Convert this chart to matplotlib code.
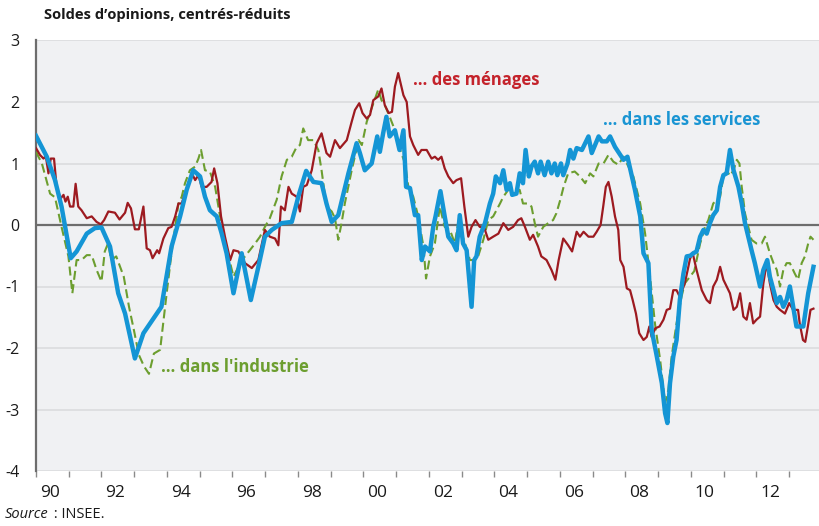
import matplotlib
matplotlib.use("Agg")
import matplotlib.pyplot as plt
from matplotlib.ticker import FixedLocator, NullFormatter, FixedFormatter

plt.rcParams['font.family'] = ['Open Sans', 'DejaVu Sans']
plt.rcParams['lines.scale_dashes'] = False

# ---- data (decimal years, values) ----
menages_t = [1990.00, 1990.12, 1990.23, 1990.30, 1990.38, 1990.45, 1990.55, 1990.63, 1990.75, 1990.84,
             1990.90, 1990.97, 1991.04, 1991.14, 1991.21, 1991.29, 1991.39, 1991.55, 1991.70, 1991.85,
             1991.98, 1992.08, 1992.21, 1992.41, 1992.55, 1992.72, 1992.80, 1992.90, 1993.02, 1993.14,
             1993.28, 1993.38, 1993.48, 1993.56, 1993.70, 1993.76, 1993.89, 1994.04, 1994.14, 1994.25,
             1994.35, 1994.45, 1994.60, 1994.76, 1994.86, 1994.96, 1995.06, 1995.21, 1995.36, 1995.44,
             1995.54, 1995.65, 1995.77, 1995.93, 1996.03, 1996.18, 1996.38, 1996.59, 1996.79, 1996.99,
             1997.14, 1997.30, 1997.40, 1997.48, 1997.60, 1997.71, 1997.81, 1997.96, 1998.06, 1998.16,
             1998.27, 1998.42, 1998.57, 1998.72, 1998.87, 1998.98, 1999.13, 1999.28, 1999.49, 1999.64,
             1999.74, 1999.87, 1999.97, 2000.10, 2000.20, 2000.30, 2000.45, 2000.55, 2000.65, 2000.77,
             2000.87, 2000.96, 2001.06, 2001.22, 2001.32, 2001.42, 2001.52, 2001.67, 2001.77, 2001.93,
             2002.08, 2002.18, 2002.28, 2002.38, 2002.48, 2002.59, 2002.74, 2002.84, 2002.98, 2003.08,
             2003.20, 2003.30, 2003.42, 2003.55, 2003.69, 2003.81, 2003.96, 2004.12, 2004.27, 2004.42,
             2004.57, 2004.72, 2004.82, 2004.93, 2005.08, 2005.18, 2005.33, 2005.43, 2005.59, 2005.74,
             2005.86, 2005.96, 2006.10, 2006.25, 2006.37, 2006.51, 2006.61, 2006.72, 2006.87, 2007.02,
             2007.12, 2007.24, 2007.32, 2007.40, 2007.48, 2007.58, 2007.68, 2007.78, 2007.84, 2007.94,
             2008.04, 2008.14, 2008.22, 2008.32, 2008.42, 2008.55, 2008.65, 2008.73, 2008.80, 2008.91,
             2009.04, 2009.16, 2009.26, 2009.36, 2009.46, 2009.56, 2009.66, 2009.81, 2009.90, 2009.97,
             2010.05, 2010.17, 2010.33, 2010.48, 2010.58, 2010.68, 2010.79, 2010.89, 2010.99, 2011.09,
             2011.19, 2011.30, 2011.40, 2011.50, 2011.60, 2011.70, 2011.80, 2011.90, 2012.00, 2012.11,
             2012.21, 2012.31, 2012.41, 2012.52, 2012.62, 2012.72, 2012.87, 2013.00, 2013.12, 2013.27,
             2013.32, 2013.42, 2013.49, 2013.57, 2013.65, 2013.74]
menages_v = [1.25, 1.14, 1.08, 1.12, 0.84, 1.08, 1.08, 0.62, 0.43, 0.49,
             0.38, 0.46, 0.30, 0.30, 0.67, 0.30, 0.24, 0.11, 0.14, 0.05,
             0.01, 0.08, 0.22, 0.20, 0.09, 0.20, 0.36, 0.27, -0.07, -0.07,
             0.30, -0.38, -0.41, -0.54, -0.41, -0.46, -0.22, -0.05, -0.03, 0.14,
             0.35, 0.35, 0.60, 0.84, 0.73, 0.81, 0.62, 0.62, 0.70, 0.92,
             0.68, 0.14, -0.19, -0.57, -0.41, -0.43, -0.62, -0.70, -0.57, -0.08,
             -0.19, -0.22, -0.33, 0.30, 0.24, 0.62, 0.51, 0.46, 0.22, 0.62,
             0.65, 0.89, 1.33, 1.49, 1.17, 1.11, 1.38, 1.25, 1.38, 1.68,
             1.87, 1.98, 1.82, 1.73, 1.79, 2.03, 2.09, 2.22, 1.95, 1.82,
             1.84, 2.25, 2.47, 2.11, 2.00, 1.44, 1.30, 1.14, 1.22, 1.22,
             1.08, 1.11, 1.06, 1.11, 0.92, 0.79, 0.68, 0.73, 0.76, 0.30,
             -0.19, -0.03, 0.08, -0.03, -0.05, -0.24, -0.19, -0.14, 0.03, -0.08,
             -0.03, 0.08, 0.11, -0.03, -0.24, -0.16, -0.35, -0.51, -0.57, -0.73,
             -0.89, -0.57, -0.22, -0.33, -0.43, -0.11, -0.19, -0.11, -0.19, -0.19,
             -0.11, 0.00, 0.30, 0.62, 0.70, 0.46, 0.14, -0.08, -0.57, -0.68,
             -1.03, -1.06, -1.22, -1.44, -1.76, -1.87, -1.82, -1.65, -1.82, -1.68,
             -1.65, -1.54, -1.38, -1.36, -1.06, -1.06, -1.17, -0.95, -0.73, -0.55,
             -0.45, -0.73, -1.06, -1.22, -1.27, -1.00, -0.89, -0.68, -0.89, -1.00,
             -1.11, -1.38, -1.33, -1.11, -1.49, -1.54, -1.27, -1.60, -1.54, -1.49,
             -0.95, -0.62, -0.95, -1.22, -1.33, -1.38, -1.44, -1.27, -1.38, -1.38,
             -1.60, -1.87, -1.90, -1.65, -1.38, -1.36]

services_t = [1990.00, 1990.33, 1990.58, 1990.78, 1991.06, 1991.24, 1991.55, 1991.80, 1992.00, 1992.26,
              1992.51, 1992.72, 1993.02, 1993.28, 1993.83, 1994.14, 1994.40, 1994.60, 1994.80, 1995.01,
              1995.16, 1995.31, 1995.52, 1995.67, 1995.82, 1996.03, 1996.28, 1996.56, 1996.79, 1996.99,
              1997.20, 1997.50, 1997.81, 1998.03, 1998.25, 1998.47, 1998.72, 1998.87, 1999.03, 1999.23,
              1999.54, 1999.79, 1999.89, 2000.04, 2000.25, 2000.42, 2000.50, 2000.60, 2000.70, 2000.80,
              2000.96, 2001.10, 2001.22, 2001.30, 2001.42, 2001.57, 2001.67, 2001.78, 2001.88, 2002.03,
              2002.13, 2002.20, 2002.35, 2002.48, 2002.59, 2002.74, 2002.84, 2002.94, 2003.04, 2003.15,
              2003.30, 2003.38, 2003.45, 2003.55, 2003.71, 2003.86, 2003.96, 2004.04, 2004.17, 2004.27,
              2004.37, 2004.47, 2004.54, 2004.67, 2004.77, 2004.87, 2004.95, 2005.05, 2005.13, 2005.23,
              2005.33, 2005.41, 2005.53, 2005.64, 2005.74, 2005.84, 2005.92, 2006.03, 2006.10, 2006.23,
              2006.31, 2006.41, 2006.51, 2006.67, 2006.77, 2006.87, 2006.97, 2007.07, 2007.18, 2007.28,
              2007.43, 2007.53, 2007.68, 2007.84, 2007.94, 2008.06, 2008.14, 2008.29, 2008.45, 2008.55,
              2008.70, 2008.80, 2008.94, 2009.11, 2009.21, 2009.28, 2009.36, 2009.46, 2009.56, 2009.66,
              2009.77, 2009.87, 2009.98, 2010.07, 2010.17, 2010.28, 2010.38, 2010.48, 2010.58, 2010.68,
              2010.79, 2010.89, 2010.99, 2011.09, 2011.19, 2011.30, 2011.45, 2011.55, 2011.65, 2011.75,
              2011.85, 2011.95, 2012.11, 2012.21, 2012.33, 2012.41, 2012.52, 2012.62, 2012.72, 2012.82,
              2012.92, 2013.02, 2013.12, 2013.22, 2013.43, 2013.58, 2013.74]
services_v = [1.45, 1.11, 0.73, 0.30, -0.54, -0.43, -0.14, -0.05, -0.04, -0.35,
              -1.11, -1.44, -2.17, -1.76, -1.33, -0.35, 0.14, 0.57, 0.89, 0.79,
              0.46, 0.24, 0.14, -0.14, -0.46, -1.11, -0.46, -1.22, -0.68, -0.19,
              -0.08, 0.03, 0.05, 0.50, 0.88, 0.70, 0.68, 0.35, 0.05, 0.16,
              0.84, 1.33, 1.17, 0.89, 1.00, 1.44, 1.19, 1.49, 1.76, 1.44,
              1.54, 1.22, 1.54, 0.62, 0.60, 0.16, 0.16, -0.57, -0.35, -0.43,
              -0.03, 0.14, 0.55, 0.14, -0.19, -0.30, -0.41, 0.16, -0.30, -0.41,
              -1.33, -0.57, -0.51, -0.19, 0.03, 0.35, 0.51, 0.79, 0.68, 0.89,
              0.57, 0.68, 0.49, 0.51, 0.84, 0.68, 1.22, 0.79, 0.95, 1.03,
              0.84, 1.03, 0.81, 1.03, 0.84, 1.00, 0.81, 1.00, 0.81, 1.00,
              1.22, 1.08, 1.25, 1.22, 1.33, 1.44, 1.17, 1.30, 1.44, 1.36,
              1.36, 1.44, 1.27, 1.14, 1.06, 1.11, 0.92, 0.57, 0.14, -0.46,
              -0.62, -1.71, -2.09, -2.57, -3.06, -3.22, -2.57, -2.14, -1.87, -1.22,
              -0.79, -0.51, -0.50, -0.46, -0.43, -0.19, -0.08, -0.14, 0.03, 0.16,
              0.24, 0.62, 0.81, 0.84, 1.22, 0.89, 0.62, 0.35, 0.03, -0.19,
              -0.41, -0.62, -1.00, -0.73, -0.57, -0.84, -1.06, -1.27, -1.17, -1.33,
              -1.22, -1.00, -1.33, -1.65, -1.65, -1.11, -0.68]

industrie_t = [1990.00, 1990.18, 1990.43, 1990.58, 1990.78, 1990.99, 1991.11, 1991.24, 1991.39, 1991.55,
               1991.70, 1991.85, 1992.00, 1992.10, 1992.20, 1992.30, 1992.45, 1992.68, 1992.84, 1992.99,
               1993.14, 1993.30, 1993.45, 1993.60, 1993.79, 1993.99, 1994.14, 1994.35, 1994.45, 1994.55,
               1994.70, 1994.86, 1994.96, 1995.04, 1995.16, 1995.31, 1995.47, 1995.62, 1995.77, 1995.93,
               1996.03, 1996.18, 1996.38, 1996.53, 1996.69, 1996.84, 1996.99, 1997.14, 1997.35, 1997.50,
               1997.66, 1997.81, 1997.96, 1998.06, 1998.16, 1998.31, 1998.47, 1998.62, 1998.72, 1998.87,
               1999.03, 1999.13, 1999.23, 1999.33, 1999.43, 1999.64, 1999.85, 1999.95, 2000.10, 2000.25,
               2000.45, 2000.55, 2000.65, 2000.80, 2000.96, 2001.12, 2001.27, 2001.37, 2001.52, 2001.67,
               2001.83, 2001.91, 2002.03, 2002.18, 2002.33, 2002.48, 2002.64, 2002.79, 2002.89, 2003.10,
               2003.25, 2003.40, 2003.50, 2003.66, 2003.81, 2003.96, 2004.17, 2004.27, 2004.42, 2004.62,
               2004.77, 2004.87, 2005.03, 2005.13, 2005.23, 2005.33, 2005.49, 2005.64, 2005.79, 2005.89,
               2006.01, 2006.11, 2006.25, 2006.45, 2006.61, 2006.77, 2006.92, 2007.02, 2007.18, 2007.33,
               2007.48, 2007.63, 2007.78, 2007.94, 2008.09, 2008.24, 2008.45, 2008.60, 2008.75, 2008.90,
               2009.06, 2009.21, 2009.31, 2009.41, 2009.56, 2009.71, 2009.81, 2009.97, 2010.10, 2010.22,
               2010.28, 2010.43, 2010.53, 2010.68, 2010.79, 2010.89, 2010.99, 2011.09, 2011.19, 2011.30,
               2011.40, 2011.48, 2011.55, 2011.65, 2011.75, 2011.85, 2012.00, 2012.16, 2012.26, 2012.41,
               2012.52, 2012.62, 2012.72, 2012.82, 2012.92, 2013.02, 2013.17, 2013.27, 2013.38, 2013.48,
               2013.58, 2013.65, 2013.74]
industrie_v = [1.19, 1.00, 0.51, 0.45, -0.03, -0.51, -1.11, -0.57, -0.57, -0.49,
               -0.49, -0.73, -0.92, -0.43, -0.30, -0.57, -0.51, -0.84, -1.33, -1.71,
               -2.11, -2.30, -2.42, -2.09, -2.03, -1.11, -0.45, 0.35, 0.46, 0.68,
               0.89, 0.95, 1.08, 1.22, 0.89, 0.87, 0.62, 0.14, -0.30, -0.62,
               -0.84, -0.68, -0.51, -0.41, -0.30, -0.19, -0.03, 0.11, 0.41, 0.79,
               1.06, 1.11, 1.27, 1.30, 1.57, 1.38, 1.38, 1.22, 0.89, 0.30,
               0.22, 0.11, -0.24, 0.03, 0.35, 0.89, 1.38, 1.30, 1.68, 1.90,
               2.20, 2.03, 1.95, 1.76, 1.54, 1.22, 1.00, 0.62, 0.46, 0.14,
               -0.35, -0.87, -0.51, -0.30, 0.30, -0.03, -0.08, -0.30, 0.03, -0.30,
               -0.57, -0.57, -0.51, -0.24, 0.08, 0.14, 0.35, 0.46, 0.57, 0.57,
               0.57, 0.35, 0.35, 0.30, 0.03, -0.19, -0.03, 0.03, 0.08, 0.19,
               0.41, 0.62, 0.84, 0.87, 0.79, 0.68, 0.84, 0.79, 1.00, 1.00,
               1.14, 1.03, 0.98, 1.11, 0.95, 0.79, 0.35, -0.14, -0.84, -1.60,
               -2.20, -2.90, -2.68, -2.14, -1.60, -1.17, -0.95, -0.84, -0.75, -0.45,
               -0.30, -0.03, 0.08, 0.35, 0.41, 0.46, 0.79, 0.89, 0.80, 0.89,
               1.06, 1.00, 0.62, 0.19, -0.03, -0.24, -0.30, -0.30, -0.19, -0.46,
               -0.62, -0.73, -1.00, -0.73, -0.62, -0.62, -0.79, -0.89, -0.62, -0.51,
               -0.30, -0.19, -0.24]

year_ticks = list(range(1990, 2014))
label_years = list(range(1990, 2013, 2))
label_texts = ["90", "92", "94", "96", "98", "00", "02", "04", "06", "08", "10", "12"]
y_ticks = [-4, -3, -2, -1, 0, 1, 2, 3]

# ---- figure ----
W, H = 820, 526
fig = plt.figure(figsize=(W / 100, H / 100), dpi=100)
ax = fig.add_axes([36 / W, (H - 471) / H, (W - 36) / W, (471 - 40.5) / H])
ax.set_facecolor('#f0f1f3')
ax.set_xlim(1990, 2013.94)
ax.set_ylim(-4, 3)

for yv in y_ticks:
    if yv == 0:
        ax.axhline(yv, color='#6d6d6d', lw=1.6, zorder=2)
    else:
        ax.axhline(yv, color='#d9dadc', lw=1.1, zorder=1)

ax.plot(industrie_t, industrie_v, color='#6c9e2f', lw=1.5, dashes=(6.5, 3.2), zorder=3)
ax.plot(menages_t, menages_v, color='#9d1a20', lw=1.6, zorder=4)
ax.plot(services_t, services_v, color='#1495d5', lw=3.2, zorder=5, solid_joinstyle='round')

for s in ['top', 'right', 'bottom']:
    ax.spines[s].set_visible(False)
ax.spines['left'].set_color('#6d6d6d')
ax.spines['left'].set_linewidth(1.6)

ax.xaxis.set_major_locator(FixedLocator(year_ticks))
ax.xaxis.set_major_formatter(NullFormatter())
ax.xaxis.set_minor_locator(FixedLocator([y + 0.42 for y in label_years]))
ax.xaxis.set_minor_formatter(FixedFormatter(label_texts))
ax.tick_params(axis='x', which='major', length=4, width=1.0, color='#8a8a8a', direction='out')
ax.tick_params(axis='x', which='minor', length=0, pad=10, labelsize=12.5, labelcolor='#1a1a1a')

ax.yaxis.set_major_locator(FixedLocator(y_ticks))
ax.set_yticklabels([str(v) for v in y_ticks])
ax.tick_params(axis='y', length=0, pad=12, labelsize=11.5, labelcolor='#1a1a1a')

fig.text(44 / W, 1 - 15 / H, "Soldes d\u2019opinions, centrés-réduits", fontsize=10.6,
         fontweight='bold', ha='left', va='center', color='#1a1a1a')

renderer = fig.canvas.get_renderer()
src = fig.text(5 / W, 1 - 515 / H, "Source", fontsize=10.5, style='italic', ha='left', va='center',
               color='#1a1a1a')
bb = src.get_window_extent(renderer=renderer)
fig.text((bb.x1 + 1) / W, 1 - 515 / H, " : INSEE.", fontsize=10.5, ha='left', va='center',
         color='#1a1a1a')

ax.text(2001.51, 2.36, "\u2026 des ménages", color='#c4232b', fontsize=12, fontweight='bold',
        ha='left', va='center', zorder=6)
ax.text(2007.31, 1.71, "\u2026 dans les services", color='#1a95d3', fontsize=12, fontweight='bold',
        ha='left', va='center', zorder=6)
ax.text(1993.82, -2.31, "\u2026 dans l'industrie", color='#6c9e2f', fontsize=12, fontweight='bold',
        ha='left', va='center', zorder=6)

fig.savefig("out.png", dpi=100)
